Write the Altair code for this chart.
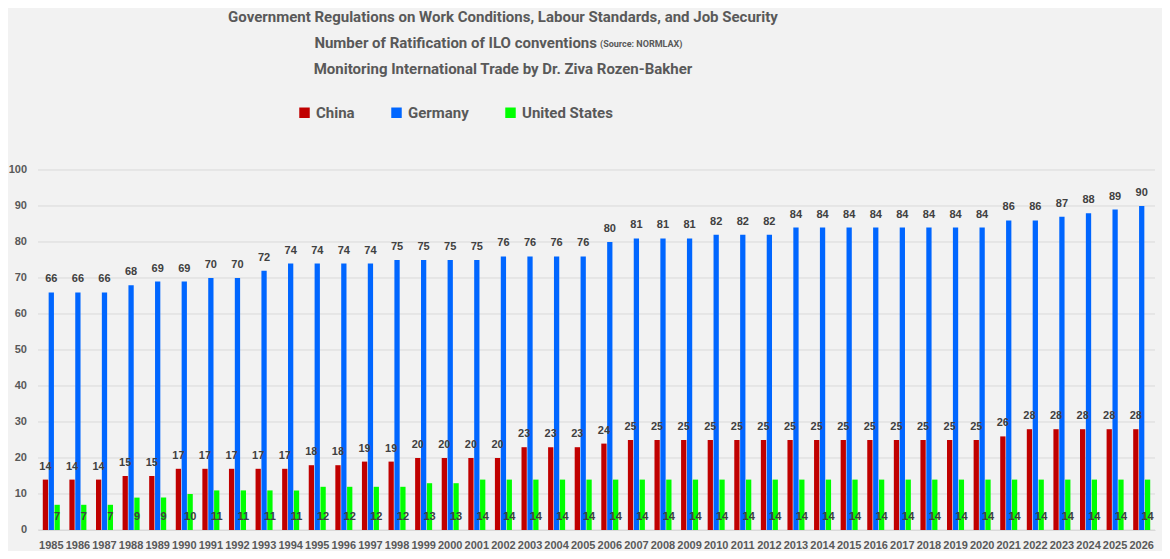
import pandas as pd
import altair as alt

# ================== DATA ==================

YEARS = [str(y) for y in range(1985, 2027)]

CHINA = [14, 14, 14, 15, 15, 17, 17, 17, 17, 17, 18, 18, 19, 19, 20, 20, 20, 20, 23, 23, 23,
         24, 25, 25, 25, 25, 25, 25, 25, 25, 25, 25, 25, 25, 25, 25, 26, 28, 28, 28, 28, 28]
GERMANY = [66, 66, 66, 68, 69, 69, 70, 70, 72, 74, 74, 74, 74, 75, 75, 75, 75, 76, 76, 76, 76,
           80, 81, 81, 81, 82, 82, 82, 84, 84, 84, 84, 84, 84, 84, 84, 86, 86, 87, 88, 89, 90]
USA = [7, 7, 7, 9, 9, 10, 11, 11, 11, 11, 12, 12, 12, 12, 13, 13, 14, 14, 14, 14, 14,
       14, 14, 14, 14, 14, 14, 14, 14, 14, 14, 14, 14, 14, 14, 14, 14, 14, 14, 14, 14, 14]

Y_TICKS = list(range(0, 101, 10))

COUNTRIES = ["China", "Germany", "United States"]
COLORS = ["#c00000", "#0066ff", "#00ff00"]

TITLE_1 = "Government Regulations on Work Conditions, Labour Standards, and Job Security"
TITLE_2 = "Number of Ratification of ILO conventions"
SOURCE = "(Source: NORMLAX)"
TITLE_3 = "Monitoring International Trade by Dr. Ziva Rozen-Bakher"

# ================== STYLES ==================

TITLE_FONT = "Roboto"
BODY_FONT = "Liberation Sans, Arial, sans-serif"
GREY = "#595959"
LABEL_GREY = "#404040"

df = pd.DataFrame({
    "year": YEARS * 3,
    "country": ["China"] * 42 + ["Germany"] * 42 + ["United States"] * 42,
    "value": CHINA + GERMANY + USA,
})
ticks_df = pd.DataFrame({"tick": Y_TICKS})

x_enc = alt.X("year:N", title=None, sort=YEARS,
              scale=alt.Scale(paddingInner=0.36, paddingOuter=0.18),
              axis=alt.Axis(labelAngle=0, labelFont=BODY_FONT, labelFontSize=11,
                            labelFontWeight="bold", labelColor=GREY, labelPadding=9,
                            ticks=False, domainColor="#d9d9d9"))
xoff = alt.XOffset("country:N", sort=COUNTRIES,
                   scale=alt.Scale(domain=COUNTRIES, paddingInner=0.1))
y_scale = alt.Scale(domain=[0, 100], nice=False)
y_tick = alt.Y("tick:Q", title=None, scale=y_scale, axis=None)

base = alt.Chart(df)

# gridlines and y labels drawn from the tick list through the y scale
grid = alt.Chart(ticks_df).mark_rule(color="#d9d9d9", strokeWidth=1).encode(
    y=y_tick, x=alt.value(0), x2=alt.value(1117),
)
y_labels = alt.Chart(ticks_df).mark_text(
    align="right", baseline="middle", font=BODY_FONT, fontSize=11,
    fontWeight="bold", color=GREY,
).encode(y=y_tick, x=alt.value(-11), text="tick:Q")

bars = base.mark_bar().encode(
    x=x_enc,
    xOffset=xoff,
    y=alt.Y("value:Q", scale=y_scale, axis=None),
    color=alt.Color("country:N", sort=COUNTRIES,
                    scale=alt.Scale(domain=COUNTRIES, range=COLORS),
                    legend=alt.Legend(title=None, orient="none", direction="horizontal",
                                      legendX=259, legendY=-65, symbolType="square",
                                      symbolSize=110, symbolStrokeWidth=0, symbolOpacity=1,
                                      labelFont=TITLE_FONT, labelFontSize=15,
                                      labelFontWeight="bold", labelColor=GREY,
                                      columnPadding=34, labelOffset=4)),
)

top_labels = base.transform_filter(
    alt.datum.country != "United States"
).mark_text(dy=-13, font=BODY_FONT, fontSize=11, fontWeight="bold",
            color=LABEL_GREY).encode(
    x=x_enc, xOffset=xoff, y=alt.Y("value:Q", scale=y_scale, axis=None), text="value:Q",
)

us_labels = base.transform_filter(
    alt.datum.country == "United States"
).mark_text(dy=-13, font=BODY_FONT, fontSize=11, fontWeight="bold",
            color=LABEL_GREY).encode(
    x=x_enc, xOffset=xoff, y=alt.YDatum(0, scale=y_scale, axis=None), text="value:Q",
)


def title_line(text, x, y, size, align="center"):
    return alt.Chart(pd.DataFrame({"t": [text]})).mark_text(
        font=TITLE_FONT, fontSize=size, fontWeight="bold", color=GREY,
        align=align, baseline="middle",
    ).encode(text="t:N", x=alt.value(x), y=alt.value(y))


titles = (
    title_line(TITLE_1, 465, -153, 15)
    + title_line(TITLE_2, 559, -127, 15, align="right")
    + title_line(SOURCE, 562, -126, 9, align="left")
    + title_line(TITLE_3, 465, -101, 15)
)

chart = (
    alt.layer(grid, y_labels, bars, top_labels, us_labels, titles)
    .properties(width=1117, height=360,
                autosize=alt.AutoSizeParams(type="none"),
                padding={"left": 30, "top": 162, "right": 7, "bottom": 21})
    .configure(background="#f2f2f2")
    .configure_view(stroke=None)
)

chart.save("out.html", embed_options={"renderer": "svg", "actions": False})
